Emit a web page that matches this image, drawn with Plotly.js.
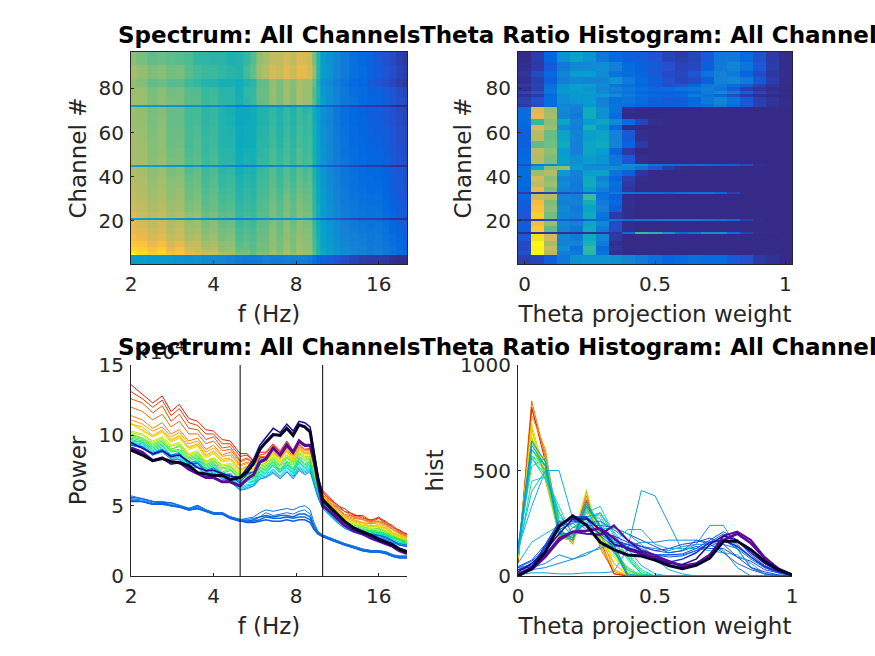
<!DOCTYPE html>
<html>
<head>
<meta charset="utf-8">
<script src="https://cdn.plot.ly/plotly-3.0.1.min.js"></script>
<style>html,body{margin:0;padding:0;background:#fff}</style>
</head>
<body>
<div id="plot" style="width:875px;height:656px"></div>
<script>
// frequency grid (Hz) of the spectrum rows
const freqs = [2,2.2,2.4,2.6,2.8,3,3.25,3.5,3.75,4,4.3,4.6,5,5.3,5.6,5.9,6.2,6.6,7,7.4,7.8,8.2,8.6,9,9.3,9.6,10,10.6,11.3,12,13,14,15,16,17,18,19,20.3];
// channel band edges for the spectrum image, one more than specRows
const specEdges = [0.5,2.5,4.5,5.5,6.5,8,11,14,17,19,20.5,21.5,24,27,29.5,32,35,38,41,44.5,45.5,49,53,58,63,68,71.5,72.5,76,80.5,84.5,90.5,96.5];
// power x 10^4, bottom channels first
const specRows = [
 [5.3,5.3,5.1,5.1,5.0,4.9,4.7,4.8,4.6,4.4,4.4,4.1,3.9,3.8,3.8,3.9,4.0,3.9,3.9,4.0,3.9,4.0,4.0,3.8,3.3,3.0,2.8,2.6,2.4,2.2,2.0,1.8,1.7,1.7,1.6,1.4,1.3,1.3],
 [5.6,5.5,5.3,5.2,5.2,5.0,4.8,5.0,4.7,4.5,4.5,4.2,4.0,3.9,3.9,4.0,4.2,4.1,4.1,4.2,4.1,4.2,4.2,4.0,3.5,3.1,2.9,2.7,2.5,2.3,2.1,1.9,1.8,1.8,1.7,1.5,1.4,1.4],
 [13.6,12.9,12.3,12.8,11.7,12.2,11.2,11.0,10.4,10.3,9.7,9.6,8.7,8.7,8.2,8.8,8.8,9.4,8.9,9.6,8.9,9.7,9.3,9.3,8.0,7.0,6.1,5.6,5.0,4.8,4.3,4.3,3.9,4.2,3.8,3.6,3.2,3.0],
 [13.1,12.6,12.0,12.5,11.4,11.9,10.9,10.7,10.1,10.1,9.4,9.4,8.5,8.6,8.1,8.6,8.7,9.3,8.8,9.5,8.8,9.5,9.2,9.2,8.0,6.9,6.0,5.4,5.1,4.6,4.4,4.1,4.0,4.1,3.9,3.4,3.3,2.9],
 [12.6,12.3,11.6,12.1,11.0,11.5,10.5,10.4,9.7,9.9,9.1,9.2,8.2,8.4,8.0,8.5,8.5,9.2,8.6,9.3,8.7,9.4,9.0,9.1,7.8,6.9,5.9,5.5,4.9,4.6,4.2,4.2,3.8,4.1,3.7,3.5,3.1,2.9],
 [12.0,11.7,11.1,11.5,10.6,11.0,10.1,10.1,9.4,9.6,8.9,9.0,8.1,8.3,8.0,8.5,8.5,9.1,8.6,9.2,8.7,9.3,9.0,9.0,7.7,6.8,5.8,5.3,4.8,4.4,4.2,4.0,3.9,3.9,3.7,3.3,3.1,2.8],
 [11.4,11.1,10.5,10.9,10.1,10.4,9.6,9.8,9.0,9.3,8.6,8.8,7.9,8.1,7.9,8.4,8.4,9.0,8.5,9.1,8.6,9.2,8.9,8.9,7.6,6.7,5.8,5.2,4.8,4.3,4.1,4.0,3.7,3.9,3.6,3.3,3.0,2.8],
 [11.1,10.8,10.3,10.6,9.9,10.2,9.4,9.6,8.8,9.1,8.5,8.6,7.8,8.0,7.8,8.3,8.3,8.9,8.4,9.0,8.5,9.1,8.8,8.8,7.5,6.6,5.7,5.1,4.7,4.2,4.0,3.8,3.7,3.8,3.5,3.1,2.9,2.7],
 [10.8,10.6,10.0,10.4,9.7,10.0,9.2,9.4,8.6,8.9,8.3,8.4,7.6,7.8,7.6,8.2,8.2,8.8,8.3,8.9,8.4,9.0,8.7,8.7,7.4,6.5,5.6,5.1,4.6,4.2,3.9,3.8,3.5,3.7,3.4,3.1,2.8,2.7],
 [10.8,10.4,9.9,10.3,9.6,9.9,9.1,9.3,8.5,8.8,8.2,8.3,7.5,7.8,7.6,8.1,8.2,8.7,8.3,8.9,8.3,9.0,8.7,8.7,7.4,6.4,5.5,5.0,4.5,4.1,3.9,3.6,3.6,3.5,3.4,3.0,2.9,2.6],
 [5.5,5.4,5.2,5.2,5.1,4.9,4.8,4.9,4.6,4.5,4.4,4.2,4.0,4.1,4.2,4.5,4.7,4.6,4.7,4.8,4.7,4.9,5.0,4.7,3.8,3.2,2.9,2.7,2.5,2.3,2.1,1.9,1.8,1.8,1.7,1.5,1.4,1.4],
 [10.9,10.3,9.9,10.2,9.5,9.8,9.0,9.2,8.4,8.7,8.1,8.2,7.4,7.7,7.5,8.1,8.1,8.7,8.2,8.8,8.2,8.9,8.6,8.6,7.3,6.5,5.5,5.0,4.5,4.1,3.8,3.7,3.5,3.6,3.3,3.1,2.8,2.6],
 [10.3,10.1,9.6,9.9,9.3,9.5,8.7,8.9,8.2,8.4,7.9,8.0,7.3,7.5,7.4,7.9,8.0,8.6,8.1,8.6,8.2,8.8,8.5,8.5,7.2,6.4,5.4,4.9,4.4,4.0,3.8,3.6,3.5,3.5,3.2,3.0,2.7,2.6],
 [10.2,10.0,9.5,9.8,9.2,9.4,8.6,8.8,8.1,8.4,7.8,7.9,7.2,7.5,7.3,7.9,8.0,8.5,8.0,8.6,8.1,8.7,8.4,8.5,7.2,6.3,5.4,4.8,4.4,3.9,3.7,3.5,3.4,3.4,3.2,2.9,2.7,2.5],
 [10.1,9.8,9.4,9.7,9.0,9.3,8.5,8.7,8.0,8.3,7.7,7.8,7.1,7.4,7.2,7.8,7.9,8.4,7.9,8.5,8.0,8.7,8.3,8.4,7.1,6.3,5.3,4.8,4.3,3.9,3.6,3.5,3.3,3.4,3.1,2.9,2.6,2.5],
 [10.0,9.8,9.3,9.6,9.0,9.2,8.4,8.6,7.9,8.2,7.6,7.7,7.0,7.3,7.1,7.7,7.8,8.3,7.8,8.4,7.9,8.5,8.2,8.3,7.1,6.2,5.3,4.7,4.2,3.9,3.5,3.4,3.2,3.3,3.0,2.8,2.6,2.4],
 [9.9,9.7,9.2,9.5,8.9,9.0,8.3,8.5,7.8,8.1,7.4,7.6,6.9,7.2,7.0,7.6,7.7,8.2,7.6,8.2,7.7,8.4,8.0,8.2,7.0,6.1,5.2,4.7,4.2,3.8,3.5,3.3,3.2,3.2,3.0,2.8,2.6,2.4],
 [9.8,9.6,9.1,9.4,8.8,8.9,8.2,8.4,7.7,8.0,7.3,7.5,6.8,7.1,6.9,7.5,7.6,8.1,7.5,8.1,7.6,8.3,7.9,8.1,6.9,6.0,5.2,4.6,4.2,3.7,3.5,3.2,3.2,3.1,3.0,2.7,2.6,2.3],
 [9.7,9.5,9.0,9.3,8.6,8.8,8.0,8.3,7.6,7.9,7.2,7.3,6.6,6.9,6.8,7.4,7.5,8.0,7.4,8.0,7.5,8.2,7.8,8.0,6.8,6.0,5.1,4.6,4.1,3.7,3.4,3.2,3.1,3.1,2.9,2.7,2.5,2.3],
 [5.7,5.5,5.3,5.3,5.2,5.0,4.8,5.0,4.7,4.5,4.5,4.2,4.0,4.0,4.1,4.2,4.5,4.3,4.4,4.5,4.4,4.6,4.7,4.4,3.6,3.1,2.9,2.7,2.5,2.3,2.1,1.9,1.8,1.8,1.7,1.5,1.4,1.4],
 [9.6,9.5,8.9,9.2,8.6,8.7,8.0,8.2,7.5,7.8,7.2,7.2,6.5,6.8,6.7,7.3,7.4,7.9,7.4,7.9,7.4,8.1,7.7,7.9,6.8,5.9,5.0,4.5,4.0,3.7,3.3,3.2,3.0,3.0,2.9,2.6,2.4,2.3],
 [9.5,9.4,8.8,9.1,8.5,8.6,7.9,8.1,7.4,7.7,7.1,7.1,6.4,6.7,6.6,7.2,7.3,7.8,7.3,7.8,7.3,8.0,7.6,7.8,6.7,5.9,5.0,4.5,4.0,3.6,3.3,3.1,3.0,3.0,2.8,2.6,2.4,2.2],
 [9.5,9.3,8.8,9.0,8.4,8.5,7.8,8.0,7.4,7.6,7.0,7.0,6.3,6.5,6.5,7.1,7.2,7.6,7.1,7.7,7.2,7.8,7.5,7.7,6.7,5.8,4.9,4.4,3.9,3.6,3.2,3.1,2.9,2.9,2.8,2.5,2.3,2.2],
 [9.4,9.2,8.7,9.0,8.4,8.4,7.8,7.9,7.3,7.5,7.0,6.9,6.2,6.4,6.5,7.0,7.1,7.5,7.0,7.5,7.1,7.7,7.4,7.6,6.6,5.7,4.9,4.4,3.9,3.5,3.2,3.0,2.9,2.8,2.7,2.5,2.3,2.2],
 [9.3,9.1,8.6,8.9,8.3,8.3,7.7,7.8,7.2,7.4,6.9,6.8,6.1,6.3,6.4,6.9,7.0,7.4,6.9,7.4,7.0,7.6,7.3,7.5,6.5,5.6,4.8,4.3,3.8,3.4,3.1,3.0,2.8,2.8,2.6,2.4,2.2,2.1],
 [9.3,9.1,8.6,8.8,8.3,8.3,7.7,7.7,7.2,7.3,6.9,6.7,6.1,6.2,6.4,6.9,7.0,7.3,6.9,7.4,6.9,7.5,7.2,7.4,6.5,5.6,4.8,4.3,3.8,3.4,3.1,2.9,2.8,2.7,2.6,2.4,2.2,2.1],
 [5.4,5.3,5.1,5.2,5.0,4.9,4.7,4.8,4.6,4.4,4.4,4.1,3.9,3.9,4.0,4.2,4.3,4.2,4.3,4.3,4.2,4.4,4.4,4.2,3.5,3.0,2.8,2.6,2.4,2.2,2.0,1.8,1.7,1.7,1.6,1.4,1.3,1.3],
 [9.4,9.2,8.7,9.0,8.6,8.7,8.1,8.1,7.5,7.7,7.2,7.2,6.7,7.2,7.4,8.2,8.4,9.1,8.6,9.3,8.7,9.6,9.2,9.3,8.0,6.8,5.4,4.8,4.3,3.8,3.5,3.2,3.0,2.9,2.8,2.5,2.3,2.2],
 [9.3,9.2,8.6,8.9,8.5,8.6,8.0,8.0,7.4,7.6,7.1,7.1,6.6,7.3,7.4,8.4,8.4,9.2,8.6,9.4,8.7,9.7,9.2,9.3,7.9,6.9,5.2,4.8,4.2,3.8,3.3,3.2,2.9,2.9,2.7,2.5,2.2,2.1],
 [9.1,8.8,8.2,8.4,8.0,8.1,7.6,7.3,7.0,7.0,6.7,6.7,6.4,6.9,7.2,8.1,8.3,9.1,8.6,9.3,8.8,9.6,9.3,9.3,8.2,6.7,5.0,4.6,4.1,3.6,3.2,3.0,2.7,2.5,2.3,2.1,1.8,1.6],
 [9.5,9.1,8.7,8.9,8.5,8.6,8.1,7.7,7.5,7.5,7.3,7.1,7.0,7.7,8.3,9.3,9.8,10.5,10.2,10.8,10.3,11.0,10.9,10.6,8.9,7.1,5.5,5.0,4.4,3.9,3.4,3.2,2.9,2.7,2.5,2.3,2.0,1.8],
 [8.95,8.6,8.2,8.35,8.15,8.05,7.85,7.35,7.25,7.15,7.15,6.85,7.0,7.4,8.0,9.0,9.5,10.05,10.0,10.5,10.0,10.75,10.6,10.25,8.5,7.0,5.4,4.9,4.4,3.9,3.4,3.1,2.9,2.6,2.4,2.2,1.9,1.7]
];
const specColors = ['#0a5fe0','#0a6ae6','#d8200f','#e03a0c','#e8500a','#f06a08','#f48006','#f89804','#fab000','#f8c400','#1070e8','#ecd800','#c8e400','#a0e810','#78ec18','#50ea28','#30e840','#18e460','#08e088','#1078e8','#00e0a8','#00dcc8','#00d4e0','#00c0e8','#08a8e8','#1090e8','#0a68e0','#0c70e4','#1050e0','#5a0a9a','#200a9a','#05052a'];
const specWidths = [1.5,1.5,1,1,1,1,1,1,1,1,1,1,1,1,1,1,1,1,1,1,1,1,1,1,1,1,1.5,1,1,3,1.5,3];

// theta projection weight bin centres
const binCenters = [0,0.05,0.1,0.15,0.2,0.25,0.3,0.35,0.4,0.45,0.5,0.55,0.6,0.65,0.7,0.75,0.8,0.85,0.9,0.95,1];
const histEdges = [0.5,4.5,6.5,8.5,11,14,15,17.5,20,21,24,27,29.5,32,33,35.5,38,40.5,43,45,46,50,53,56,61,63.5,66,69,71.5,73,76,77.5,79,80.5,82,85,88,92,96.5];
const histRows = [
 [40,50,100,160,230,240,240,230,200,170,140,110,120,140,130,130,90,70,30,15,0],
 [70,830,560,180,170,380,150,10,0,0,0,0,0,0,0,0,0,0,0,0,0],
 [60,790,580,230,150,400,130,20,0,0,0,0,0,0,0,0,0,0,0,0,0],
 [60,800,540,190,190,360,170,10,0,0,0,0,0,0,0,0,0,0,0,0,0],
 [90,760,600,200,170,330,200,30,0,0,0,0,0,0,0,0,0,0,0,0,0],
 [5,15,15,10,10,15,15,20,130,405,380,250,120,150,240,240,130,40,10,5,0],
 [100,700,450,200,160,330,170,60,5,0,0,0,0,0,0,0,0,0,0,0,0],
 [90,650,520,210,190,300,210,60,5,0,0,0,0,0,0,0,0,0,0,0,0],
 [10,40,60,100,80,100,140,160,140,160,160,170,170,170,160,150,130,40,10,0,0],
 [80,720,470,200,180,330,150,30,5,0,0,0,0,0,0,0,0,0,0,0,0],
 [90,680,500,210,170,300,190,90,10,0,0,0,0,0,0,0,0,0,0,0,0],
 [100,660,480,180,190,350,170,120,10,0,0,0,0,0,0,0,0,0,0,0,0],
 [110,590,560,200,180,410,150,100,10,0,0,0,0,0,0,0,0,0,0,0,0],
 [30,30,40,60,80,110,130,160,150,140,130,120,140,150,150,120,40,0,0,0,0],
 [110,640,480,190,170,280,180,130,20,0,0,0,0,0,0,0,0,0,0,0,0],
 [120,570,530,220,170,330,230,140,30,0,0,0,0,0,0,0,0,0,0,0,0],
 [120,600,500,200,180,320,190,110,40,5,0,0,0,0,0,0,0,0,0,0,0],
 [130,520,560,260,190,280,290,150,100,20,0,0,0,0,0,0,0,0,0,0,0],
 [130,330,500,500,270,220,220,230,200,150,80,30,10,0,0,0,0,0,0,0,0],
 [60,160,200,240,250,200,200,160,220,220,150,130,130,130,120,110,100,60,10,0,0],
 [120,560,480,280,230,270,240,160,80,10,0,0,0,0,0,0,0,0,0,0,0],
 [110,570,500,260,190,310,270,110,30,0,0,0,0,0,0,0,0,0,0,0,0],
 [100,450,470,330,190,300,330,200,110,30,0,0,0,0,0,0,0,0,0,0,0],
 [100,560,460,300,200,280,300,190,90,10,0,0,0,0,0,0,0,0,0,0,0],
 [110,600,520,220,180,350,240,120,0,0,0,0,0,0,0,0,0,0,0,0,0],
 [120,400,500,300,200,260,300,210,130,50,10,0,0,0,0,0,0,0,0,0,0],
 [130,640,540,200,170,340,230,130,0,0,0,0,0,0,0,0,0,0,0,0,0],
 [130,620,520,210,180,330,240,150,10,0,0,0,0,0,0,0,0,0,0,0,0],
 [30,60,120,200,200,250,200,150,130,110,100,100,100,120,140,170,130,80,40,15,5],
 [40,70,130,220,250,270,190,140,150,130,100,90,95,120,160,200,150,90,40,20,5],
 [10,30,120,230,260,250,260,220,170,140,120,110,120,170,150,110,60,30,10,0,0],
 [45,75,150,260,260,280,210,170,150,120,100,100,105,130,170,210,170,100,50,20,5],
 [5,40,150,250,270,240,200,190,160,140,120,130,150,160,180,150,90,40,20,5,0],
 [30,45,140,240,280,280,220,150,135,115,85,65,80,110,160,170,140,90,45,20,5],
 [10,40,100,180,210,200,195,240,170,120,100,70,50,60,100,190,210,170,90,35,5],
 [20,60,120,200,270,270,220,150,130,110,85,60,55,80,150,190,170,110,60,25,5],
 [10,30,90,170,210,215,225,180,125,105,90,70,45,55,100,170,200,155,85,35,5],
 [0,35,115,235,285,240,160,125,100,95,75,50,35,50,85,165,165,125,70,30,5]
];
const histColors = ['#2a40d8','#f07008','#f08000','#d8200f','#f09008','#10a0d8','#f8b000','#f8c000','#1088e0','#f5d000','#dce800','#a8e810','#b8f010','#1090e0','#70e820','#50e830','#30e040','#20e060','#10b0e0','#10b8d8','#00e070','#10d8a0','#10d8a8','#00c8c8','#00a8e0','#10b8d0','#0090e8','#0898e0','#0a70e0','#0a60e0','#1060e0','#0a50e0','#2040d8','#1030d8','#5a0a9a','#200a9a','#5a0a9a','#05052a'];
const histWidths = [1,1,1,1,1,1,1,1,1,1,1,1,1,1,1,1,1,1,1,1,1,1,1,1,1,1,1,1,1,1,1,1,1,1.5,2,1.5,2.5,3];

const thetaBand = [5, 10];
const powerTicks = [0, 5, 10, 15];
const channelTicks = [20, 40, 60, 80];
const freqTicks = [2, 4, 8, 16];
const weightTicks = [0, 0.5, 1];
const histTicks = [0, 500, 1000];

const parula = [[0,'#352a87'],[0.095,'#2053d4'],[0.143,'#0268e1'],[0.238,'#1481d6'],[0.333,'#079ccf'],[0.429,'#0faeb9'],[0.524,'#42bb98'],[0.619,'#87bf77'],[0.714,'#bfbc60'],[0.81,'#f1b94a'],[0.857,'#ffc337'],[0.952,'#f5de21'],[1,'#f9fb0e']];

const inkColor = '#262626';
const fontFam = '"DejaVu Sans", sans-serif';
const W = 875, H = 656;

function dom(a, b) { return [a / W, b / W]; }
function domY(top, bot) { return [1 - bot / H, 1 - top / H]; }

function axis(domain, anchor, tickvals, titleText, standoff, extra) {
    return Object.assign({
        domain: domain, anchor: anchor, tickvals: tickvals,
        ticktext: tickvals.map(String),
        ticks: 'inside', ticklen: 3, tickwidth: 1, tickcolor: inkColor,
        showgrid: false, zeroline: false, showline: true, linecolor: inkColor, linewidth: 1,
        ticklabelstandoff: 2,
        tickfont: { family: fontFam, size: 20, color: inkColor },
        title: { text: titleText, font: { family: fontFam, size: 23, color: inkColor }, standoff: standoff }
    }, extra);
}

const traces = [
    { type: 'heatmap', x: freqs, y: specEdges, z: specRows, colorscale: parula, zmin: 1.3, zmax: 13.5, showscale: false, xaxis: 'x', yaxis: 'y' },
    { type: 'heatmap', x: binCenters, y: histEdges, z: histRows, colorscale: parula, zmin: 0, zmax: 800, showscale: false, xaxis: 'x2', yaxis: 'y2' }
];
specRows.forEach((row, i) => {
    traces.push({ type: 'scatter', mode: 'lines', x: freqs, y: row, xaxis: 'x3', yaxis: 'y3',
        line: { color: specColors[i], width: specWidths[i] } });
});
thetaBand.forEach(f => {
    traces.push({ type: 'scatter', mode: 'lines', x: [f, f], y: [powerTicks[0], powerTicks[3]], xaxis: 'x3', yaxis: 'y3',
        line: { color: '#000', width: 1 } });
});
histRows.forEach((row, i) => {
    traces.push({ type: 'scatter', mode: 'lines', x: binCenters, y: row, xaxis: 'x4', yaxis: 'y4',
        line: { color: histColors[i], width: histWidths[i] } });
});

const xL = dom(131, 407), xR = dom(518, 792);
const yT = domY(52, 264), yB = domY(365, 576);
const logRange = [Math.log10(freqs[0]), Math.log10(freqs[freqs.length - 1])];

function plotTitle(text, x, y) {
    return { text: text, xref: 'paper', yref: 'paper', x: x / W, y: 1 - y / H, xanchor: 'center', yanchor: 'middle',
        showarrow: false, font: { family: fontFam, size: 23, color: '#000', weight: 'bold' } };
}

const layout = {
    width: W, height: H, showlegend: false, paper_bgcolor: '#fff', plot_bgcolor: '#fff',
    margin: { l: 0, r: 0, t: 0, b: 0 },
    xaxis: axis(xL, 'y', freqTicks, 'f (Hz)', 10, { type: 'log', range: logRange, mirror: true }),
    yaxis: axis(yT, 'x', channelTicks, 'Channel #', 5, { range: [0.5, 96.5], mirror: true }),
    xaxis2: axis(xR, 'y2', weightTicks, 'Theta projection weight', 10, { range: [-0.025, 1.025], mirror: true }),
    yaxis2: axis(yT, 'x2', channelTicks, 'Channel #', 7, { range: [0.5, 96.5], mirror: true }),
    xaxis3: axis(xL, 'y3', freqTicks, 'f (Hz)', 10, { type: 'log', range: logRange }),
    yaxis3: axis(yB, 'x3', powerTicks, 'Power', 5, { range: [0, 15] }),
    xaxis4: axis(xR, 'y4', weightTicks, 'Theta projection weight', 10, { range: [0, 1] }),
    yaxis4: axis(yB, 'x4', histTicks, 'hist', 10, { range: [0, 1000] }),
    annotations: [
        { text: '×10<sup>4</sup>', xref: 'paper', yref: 'paper', x: 131 / W, y: 1 - 351 / H, xanchor: 'left', yanchor: 'middle',
          showarrow: false, font: { family: fontFam, size: 20, color: inkColor } },
        plotTitle('Spectrum: All Channels', 269, 35),
        plotTitle('Theta Ratio Histogram: All Channels', 655, 35),
        plotTitle('Spectrum: All Channels', 269, 347),
        plotTitle('Theta Ratio Histogram: All Channels', 655, 347)
    ]
};

Plotly.newPlot('plot', traces, layout, { displayModeBar: false, staticPlot: true });
</script>
</body>
</html>
